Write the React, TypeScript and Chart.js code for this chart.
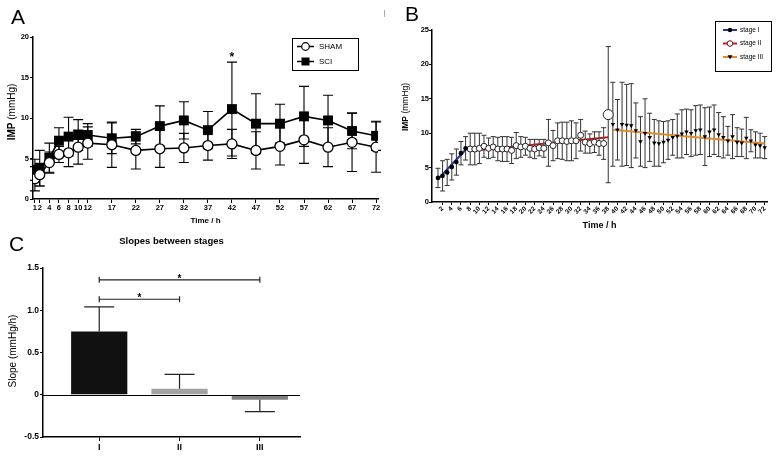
import React, { useEffect, useRef } from 'react';
import { Chart, registerables } from 'chart.js';

Chart.register(...registerables);

const FONT = "'Liberation Sans', Arial, Helvetica, sans-serif";
Chart.defaults.font.family = FONT;
Chart.defaults.color = '#000';

// ---------------- Panel A data ----------------
const timeA = [1, 2, 4, 6, 8, 10, 12, 17, 22, 27, 32, 37, 42, 47, 52, 57, 62, 67, 72];
const shamMean = [2.5, 3.0, 4.5, 5.5, 5.7, 6.4, 6.9, 6.7, 6.0, 6.2, 6.3, 6.6, 6.8, 6.0, 6.5, 7.3, 6.4, 7.0, 6.4];
const shamErr = [1.5, 1.4, 1.3, 1.0, 1.7, 2.1, 2.0, 2.8, 2.3, 2.3, 1.8, 1.8, 1.8, 2.3, 2.3, 2.9, 2.4, 3.6, 3.1];
const sciMean = [3.6, 3.8, 5.1, 7.2, 7.7, 7.9, 7.9, 7.5, 7.7, 9.0, 9.7, 8.5, 11.1, 9.3, 9.3, 10.2, 9.7, 8.4, 7.8];
const sciErr = [1.3, 2.2, 1.8, 1.6, 2.4, 1.9, 1.4, 1.9, 0.9, 2.5, 2.3, 2.3, 5.8, 3.7, 2.4, 3.7, 3.1, 2.2, 1.8];
const ticksAY = [0, 5, 10, 15, 20];
const starA = 42;

// ---------------- Panel B data ----------------
const timeI = [1, 2, 3, 4, 5, 6, 7];
const imI = [3.5, 3.8, 4.3, 5.1, 5.8, 7.1, 7.8];
const errI = [1.4, 2.2, 1.9, 1.9, 1.9, 1.7, 1.7];
const timeII = [8, 9, 10, 11, 12, 13, 14, 15, 16, 17, 18, 19, 20, 21, 22, 23, 24, 25, 26, 27, 28, 29, 30, 31, 32, 33, 34, 35, 36, 37, 38];
const imII = [7.7, 7.7, 7.8, 8.1, 7.8, 8.0, 7.7, 7.7, 7.7, 7.5, 8.2, 8.0, 8.1, 7.8, 7.7, 7.9, 7.8, 8.6, 8.2, 8.9, 8.9, 8.8, 8.9, 8.9, 9.7, 8.7, 8.5, 8.7, 8.5, 8.5, 12.7];
const errII = [2.3, 2.3, 2.2, 1.6, 1.5, 1.5, 1.7, 1.8, 1.8, 1.9, 1.9, 1.5, 1.3, 1.3, 1.4, 1.2, 1.3, 3.4, 2.2, 2.6, 2.7, 2.8, 2.9, 2.6, 2.3, 1.6, 1.4, 1.5, 1.7, 2.3, 9.9];
const timeIII = [39, 40, 41, 42, 43, 44, 45, 46, 47, 48, 49, 50, 51, 52, 53, 54, 55, 56, 57, 58, 59, 60, 61, 62, 63, 64, 65, 66, 67, 68, 69, 70, 71, 72];
const imIII = [11.3, 10.5, 11.3, 11.2, 11.1, 10.4, 8.8, 10.0, 9.4, 8.6, 8.5, 8.7, 9.0, 9.4, 9.6, 9.9, 10.2, 10.0, 10.4, 10.5, 9.5, 10.2, 10.5, 9.8, 9.4, 8.9, 9.5, 8.7, 8.6, 9.3, 8.9, 8.3, 8.2, 7.9];
const errIII = [6.1, 4.4, 6.1, 5.9, 6.1, 4.0, 3.6, 5.0, 3.5, 3.4, 3.3, 3.0, 2.8, 2.6, 3.2, 3.5, 3.3, 3.4, 3.6, 3.6, 4.2, 3.6, 3.6, 3.2, 3.0, 2.1, 3.2, 2.1, 2.0, 3.0, 1.6, 1.9, 1.8, 1.6];
const fitI = [3.3, 7.6];
const fitII = [7.4, 9.4];
const fitIII = [10.5, 8.5];
const ticksBX = [2, 4, 6, 8, 10, 12, 14, 16, 18, 20, 22, 24, 26, 28, 30, 32, 34, 36, 38, 40, 42, 44, 46, 48, 50, 52, 54, 56, 58, 60, 62, 64, 66, 68, 70, 72];
const ticksBY = [0, 5, 10, 15, 20, 25];
const stageLabels = ['stage I', 'stage II', 'stage III'];

// ---------------- Panel C data ----------------
const stagesC = ['I', 'II', 'III'];
const slopeC = [0.75, 0.07, -0.06];
const slopeErrC = [0.29, 0.17, 0.14];
const ticksCY = [-0.5, 0, 0.5, 1.0, 1.5];
const sigPairs: [number, number, number][] = [[1, 3, 1.36], [1, 2, 1.13]];

// ---------------- helpers ----------------
function drawErr(chart: any, after: boolean) {
  const ctx = chart.ctx;
  chart.data.datasets.forEach((ds: any, i: number) => {
    if (!ds.errors || !!ds.errAfter !== after) return;
    const meta = chart.getDatasetMeta(i);
    const ys = chart.scales[meta.yAxisID];
    ctx.save();
    ctx.strokeStyle = ds.errColor ?? '#000';
    ctx.lineWidth = ds.errWidth ?? 1;
    const cw = (ds.capWidth ?? 6) / 2;
    meta.data.forEach((el: any, j: number) => {
      const v = ds.data[j].y;
      const e = ds.errors[j];
      if (e == null) return;
      const x = el.x;
      const y0 = ys.getPixelForValue(v);
      const targets = ds.errMode === 'away' ? [v >= 0 ? v + e : v - e] : [v + e, v - e];
      targets.forEach((t: number) => {
        const yt = ys.getPixelForValue(t);
        ctx.beginPath();
        ctx.moveTo(x, y0);
        ctx.lineTo(x, yt);
        ctx.moveTo(x - cw, yt);
        ctx.lineTo(x + cw, yt);
        ctx.stroke();
      });
    });
    ctx.restore();
  });
}

const errorBars = {
  id: 'errorBars',
  beforeDatasetsDraw(chart: any) { drawErr(chart, false); },
  afterDatasetsDraw(chart: any) { drawErr(chart, true); },
};

function txt(ctx: any, s: string, x: number, y: number, size: number, o: any = {}) {
  ctx.save();
  ctx.font = `${o.bold ? 'bold ' : ''}${size}px ${FONT}`;
  ctx.fillStyle = o.color ?? '#000';
  ctx.textAlign = o.align ?? 'left';
  ctx.textBaseline = o.baseline ?? 'alphabetic';
  ctx.fillText(s, x, y);
  ctx.restore();
}

function vTitle(ctx: any, cx: number, cy: number, parts: [string, boolean][], size: number) {
  ctx.save();
  ctx.translate(cx, cy);
  ctx.rotate(-Math.PI / 2);
  const widths = parts.map(([s, b]) => {
    ctx.font = `${b ? 'bold ' : ''}${size}px ${FONT}`;
    return ctx.measureText(s).width;
  });
  const total = widths.reduce((a, b) => a + b, 0);
  let x = -total / 2;
  ctx.fillStyle = '#000';
  ctx.textBaseline = 'middle';
  ctx.textAlign = 'left';
  parts.forEach(([s, b], i) => {
    ctx.font = `${b ? 'bold ' : ''}${size}px ${FONT}`;
    ctx.fillText(s, x, 0);
    x += widths[i];
  });
  ctx.restore();
}

function axisStyle(tickLen: number) {
  return {
    grid: { display: true, drawOnChartArea: false, drawTicks: true, tickLength: tickLen, color: '#000', lineWidth: 1 },
    border: { display: true, color: '#000', width: 1.5 },
  };
}

const baseOptions = {
  responsive: false,
  animation: false,
  devicePixelRatio: 1,
  events: [],
  plugins: { legend: { display: false }, tooltip: { enabled: false }, title: { display: false } },
};

// ---------------- Panel A ----------------
function configA(): any {
  const decoA = {
    id: 'decoA',
    afterDraw(chart: any) {
      const ctx = chart.ctx;
      const ca = chart.chartArea;
      const xs = chart.scales.x;
      const ys = chart.scales.y;
      txt(ctx, 'A', 11, 24, 21);
      vTitle(ctx, 12, 112, [['IMP', true], [' (mmHg)', false]], 10);
      txt(ctx, 'Time / h', (ca.left + ca.right) / 2, 223, 8, { bold: true, align: 'center' });
      txt(ctx, '*', xs.getPixelForValue(starA), ys.getPixelForValue(17.0), 12, { bold: true, align: 'center' });
      // legend
      ctx.save();
      ctx.strokeStyle = '#000';
      ctx.lineWidth = 1;
      ctx.strokeRect(292.5, 38.5, 66, 32);
      ctx.lineWidth = 1.5;
      ctx.beginPath(); ctx.moveTo(297, 46.5); ctx.lineTo(314, 46.5); ctx.stroke();
      ctx.beginPath(); ctx.arc(305.5, 46.5, 3.8, 0, Math.PI * 2); ctx.fillStyle = '#fff'; ctx.fill(); ctx.lineWidth = 1.2; ctx.stroke();
      ctx.lineWidth = 1.5;
      ctx.beginPath(); ctx.moveTo(297, 61.5); ctx.lineTo(314, 61.5); ctx.stroke();
      ctx.fillStyle = '#000';
      ctx.fillRect(301.5, 57.5, 8, 8);
      ctx.strokeStyle = '#aaa';
      ctx.lineWidth = 1;
      ctx.beginPath(); ctx.moveTo(384.5, 10); ctx.lineTo(384.5, 17); ctx.stroke();
      ctx.restore();
      txt(ctx, 'SHAM', 319, 46.5, 8, { baseline: 'middle' });
      txt(ctx, 'SCI', 319, 61.5, 8, { baseline: 'middle' });
    },
  };
  return {
    type: 'line',
    data: {
      datasets: [
        {
          label: 'SHAM',
          data: timeA.map((t, i) => ({ x: t, y: shamMean[i] })),
          borderColor: '#000', borderWidth: 1.6,
          pointStyle: 'circle', pointRadius: 5, pointBackgroundColor: '#fff', pointBorderColor: '#000', pointBorderWidth: 1.3,
          errors: shamErr, capWidth: 10, errWidth: 1.1,
        },
        {
          label: 'SCI',
          data: timeA.map((t, i) => ({ x: t, y: sciMean[i] })),
          borderColor: '#000', borderWidth: 1.6,
          pointStyle: 'rect', pointRadius: 7, pointBackgroundColor: '#000', pointBorderColor: '#000', pointBorderWidth: 0,
          errors: sciErr, capWidth: 10, errWidth: 1.1,
        },
      ],
    },
    options: {
      ...baseOptions,
      layout: { padding: { left: 0, top: 37, right: 7, bottom: 0 } },
      scales: {
        x: {
          type: 'linear', min: 0.6, max: 72.4,
          afterBuildTicks: (s: any) => { s.ticks = timeA.map((v) => ({ value: v })); },
          afterFit: (s: any) => { s.height = 31; },
          ticks: { autoSkip: false, maxRotation: 0, minRotation: 0, padding: 0, font: { size: 7.5, weight: 'bold' }, color: '#000', callback: (v: any) => String(v) },
          ...axisStyle(4),
        },
        y: {
          type: 'linear', min: 0, max: 20,
          afterBuildTicks: (s: any) => { s.ticks = ticksAY.map((v) => ({ value: v })); },
          afterFit: (s: any) => { s.width = 33; },
          ticks: { padding: 1, font: { size: 7.5, weight: 'bold' }, color: '#000', callback: (v: any) => String(v) },
          ...axisStyle(3),
        },
      },
    },
    plugins: [errorBars, decoA],
  };
}

// ---------------- Panel B ----------------
function configB(): any {
  const navy = '#23358f';
  const red = '#b3202a';
  const orange = '#e08a2e';
  const decoB = {
    id: 'decoB',
    afterDraw(chart: any) {
      const ctx = chart.ctx;
      const ca = chart.chartArea;
      txt(ctx, 'B', 15, 21, 21);
      vTitle(ctx, 16, 107, [['IMP', true], [' (mmHg)', false]], 8.5);
      txt(ctx, 'Time / h', (ca.left + ca.right) / 2, 228, 9, { bold: true, align: 'center' });
      ctx.save();
      ctx.strokeStyle = '#000';
      ctx.lineWidth = 1;
      ctx.strokeRect(325.5, 21.5, 56, 50);
      const ys = [30, 43.5, 57];
      const cols = [navy, red, orange];
      ys.forEach((y, i) => {
        ctx.strokeStyle = cols[i];
        ctx.lineWidth = 2;
        ctx.beginPath(); ctx.moveTo(333, y); ctx.lineTo(347, y); ctx.stroke();
        if (i === 0) {
          ctx.fillStyle = '#000';
          ctx.beginPath(); ctx.arc(340, y, 2.2, 0, Math.PI * 2); ctx.fill();
        } else if (i === 1) {
          ctx.fillStyle = '#fff';
          ctx.strokeStyle = '#6a1015';
          ctx.lineWidth = 1;
          ctx.beginPath(); ctx.arc(340, y, 2.8, 0, Math.PI * 2); ctx.fill(); ctx.stroke();
        } else {
          ctx.fillStyle = '#000';
          ctx.beginPath(); ctx.moveTo(337.5, y - 1.8); ctx.lineTo(342.5, y - 1.8); ctx.lineTo(340, y + 2.2); ctx.closePath(); ctx.fill();
        }
        txt(ctx, stageLabels[i], 350, y, 6.5, { baseline: 'middle' });
      });
      ctx.restore();
    },
  };
  return {
    type: 'line',
    data: {
      datasets: [
        {
          label: 'stage I', data: timeI.map((t, i) => ({ x: t, y: imI[i] })), showLine: false,
          pointStyle: 'circle', pointRadius: 2.3, pointBackgroundColor: '#000', pointBorderColor: '#000', pointBorderWidth: 0,
          errors: errI, capWidth: 5, errColor: '#333', errWidth: 1,
        },
        {
          label: 'stage II', data: timeII.map((t, i) => ({ x: t, y: imII[i] })), showLine: false,
          pointStyle: 'circle', pointRadius: timeII.map((_, i) => (i === timeII.length - 1 ? 5 : 3)),
          pointBackgroundColor: '#fff', pointBorderColor: '#222', pointBorderWidth: 1,
          errors: errII, capWidth: 5, errColor: '#333', errWidth: 1,
        },
        {
          label: 'stage III', data: timeIII.map((t, i) => ({ x: t, y: imIII[i] })), showLine: false,
          pointStyle: 'triangle', rotation: 180, pointRadius: 2.6, pointBackgroundColor: '#000', pointBorderColor: '#000', pointBorderWidth: 0,
          errors: errIII, capWidth: 5, errColor: '#333', errWidth: 1,
        },
        {
          label: 'fit I', data: [{ x: timeI[0], y: fitI[0] }, { x: timeI[timeI.length - 1], y: fitI[1] }],
          borderColor: navy, borderWidth: 2, pointRadius: 0,
        },
        {
          label: 'fit II', data: [{ x: timeII[0], y: fitII[0] }, { x: timeII[timeII.length - 1], y: fitII[1] }],
          borderColor: red, borderWidth: 2, pointRadius: 0,
        },
        {
          label: 'fit III', data: [{ x: timeIII[0], y: fitIII[0] }, { x: timeIII[timeIII.length - 1], y: fitIII[1] }],
          borderColor: orange, borderWidth: 2, pointRadius: 0,
        },
      ],
    },
    options: {
      ...baseOptions,
      layout: { padding: { left: 0, top: 30, right: 9, bottom: 0 } },
      scales: {
        x: {
          type: 'linear', min: -0.3, max: 72.5,
          afterBuildTicks: (s: any) => { s.ticks = ticksBX.map((v) => ({ value: v })); },
          afterFit: (s: any) => { s.height = 28; },
          ticks: { autoSkip: false, maxRotation: 45, minRotation: 45, padding: 0, font: { size: 6.5, weight: 'bold' }, color: '#000', callback: (v: any) => String(v) },
          ...axisStyle(3),
        },
        y: {
          type: 'linear', min: 0, max: 25,
          afterBuildTicks: (s: any) => { s.ticks = ticksBY.map((v) => ({ value: v })); },
          afterFit: (s: any) => { s.width = 42; },
          ticks: { padding: 0, font: { size: 7.5, weight: 'bold' }, color: '#000', callback: (v: any) => String(v) },
          ...axisStyle(3),
        },
      },
    },
    plugins: [errorBars, decoB],
  };
}

// ---------------- Panel C ----------------
function configC(): any {
  const decoC = {
    id: 'decoC',
    afterDraw(chart: any) {
      const ctx = chart.ctx;
      const ca = chart.chartArea;
      const xs = chart.scales.x;
      const ys = chart.scales.y;
      txt(ctx, 'C', 9, 21, 21);
      txt(ctx, 'Slopes between stages', (ca.left + ca.right) / 2, 14, 9.5, { bold: true, align: 'center' });
      vTitle(ctx, 13, 121, [['Slope (mmHg/h)', false]], 10);
      ctx.save();
      ctx.strokeStyle = '#000';
      ctx.lineWidth = 1.2;
      const y0 = Math.round(ys.getPixelForValue(0)) + 0.5;
      ctx.beginPath(); ctx.moveTo(ca.left, y0); ctx.lineTo(ca.right, y0); ctx.stroke();
      ctx.strokeStyle = '#222';
      ctx.lineWidth = 1.2;
      sigPairs.forEach(([a, b, h]) => {
        const xa = xs.getPixelForValue(a);
        const xb = xs.getPixelForValue(b);
        const yy = ys.getPixelForValue(h);
        ctx.beginPath();
        ctx.moveTo(xa, yy); ctx.lineTo(xb, yy);
        ctx.moveTo(xa, yy - 3); ctx.lineTo(xa, yy + 3);
        ctx.moveTo(xb, yy - 3); ctx.lineTo(xb, yy + 3);
        ctx.stroke();
        txt(ctx, '*', (xa + xb) / 2, yy + 2, 10, { bold: true, align: 'center' });
      });
      ctx.restore();
    },
  };
  return {
    type: 'bar',
    data: {
      datasets: [
        {
          label: 'Slope',
          data: slopeC.map((v, i) => ({ x: i + 1, y: v })),
          backgroundColor: ['#111111', '#a3a3a3', '#808080'],
          borderWidth: 0,
          barPercentage: 0.7,
          categoryPercentage: 1,
          errors: slopeErrC, errMode: 'away', capWidth: 30, errAfter: true, errWidth: 1.2, errColor: '#222',
        },
      ],
    },
    options: {
      ...baseOptions,
      layout: { padding: { left: 0, top: 38, right: 10, bottom: 0 } },
      scales: {
        x: {
          type: 'linear', min: 0.3, max: 3.5, offset: false,
          afterBuildTicks: (s: any) => { s.ticks = stagesC.map((_, i) => ({ value: i + 1 })); },
          afterFit: (s: any) => { s.height = 24; },
          ticks: { autoSkip: false, maxRotation: 0, minRotation: 0, padding: 1, font: { size: 9, weight: 'bold' }, color: '#000', callback: (v: any) => stagesC[Math.round(v) - 1] ?? '' },
          ...axisStyle(4),
          grid: { display: true, offset: false, drawOnChartArea: false, drawTicks: true, tickLength: 4, color: '#000', lineWidth: 1 },
        },
        y: {
          type: 'linear', min: -0.5, max: 1.5,
          afterBuildTicks: (s: any) => { s.ticks = ticksCY.map((v) => ({ value: v })); },
          afterFit: (s: any) => { s.width = 43; },
          ticks: { padding: 1, font: { size: 8.5, weight: 'bold' }, color: '#000', callback: (v: any) => (v === 0 ? '0' : Number(v).toFixed(1)) },
          ...axisStyle(3),
        },
      },
    },
    plugins: [errorBars, decoC],
  };
}

function ChartBox({ left, top, width, height, make }: { left: number; top: number; width: number; height: number; make: () => any }) {
  const ref = useRef<HTMLCanvasElement>(null);
  useEffect(() => {
    const chart = new Chart(ref.current as HTMLCanvasElement, make());
    return () => chart.destroy();
  }, []);
  return (
    <div style={{ position: 'absolute', left, top, width, height }}>
      <canvas ref={ref} width={width} height={height} style={{ width, height, display: 'block' }} />
    </div>
  );
}

export default function App() {
  return (
    <div style={{ position: 'absolute', left: 0, top: 0, width: 776, height: 461, background: '#fff', overflow: 'hidden' }}>
      <ChartBox left={0} top={0} width={385} height={230} make={configA} />
      <ChartBox left={390} top={0} width={386} height={230} make={configB} />
      <ChartBox left={0} top={230} width={310} height={231} make={configC} />
    </div>
  );
}
